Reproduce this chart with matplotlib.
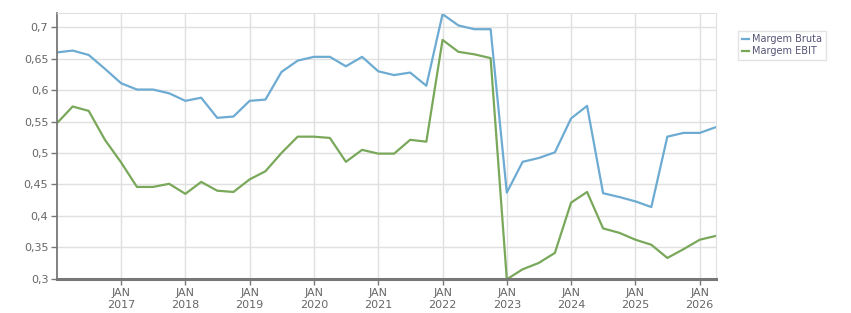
import pandas as pd
import matplotlib
matplotlib.use('Agg')
import matplotlib.pyplot as plt

# quarterly points, Jan 2016 .. Apr 2026
dates = pd.date_range('2016-01-01', periods=42, freq='QS')

margem_bruta = [0.660, 0.663, 0.656, 0.634, 0.611, 0.601, 0.601, 0.595,
                0.583, 0.588, 0.556, 0.558, 0.583, 0.585, 0.629, 0.647,
                0.653, 0.653, 0.638, 0.653, 0.630, 0.624, 0.628, 0.607,
                0.721, 0.703, 0.697, 0.697, 0.437, 0.486, 0.492, 0.501,
                0.555, 0.575, 0.436, 0.430, 0.423, 0.414, 0.526, 0.532,
                0.532, 0.541]
margem_ebit = [0.547, 0.574, 0.567, 0.521, 0.485, 0.446, 0.446, 0.451,
               0.435, 0.454, 0.440, 0.438, 0.458, 0.471, 0.500, 0.526,
               0.526, 0.524, 0.486, 0.505, 0.499, 0.499, 0.521, 0.518,
               0.680, 0.661, 0.657, 0.651, 0.299, 0.315, 0.325, 0.341,
               0.421, 0.438, 0.380, 0.373, 0.362, 0.354, 0.333, 0.347,
               0.362, 0.368]

yticks = [0.3, 0.35, 0.4, 0.45, 0.5, 0.55, 0.6, 0.65, 0.7]
ytick_labels = ['0,3', '0,35', '0,4', '0,45', '0,5', '0,55', '0,6', '0,65', '0,7']
years = list(range(2017, 2027))

fig = plt.figure(figsize=(8.51, 3.13), dpi=100)
ax = fig.add_axes([0.0666, 0.1096, 0.7751, 0.8479])

ax.plot(dates, margem_bruta, color='#6dabd2', lw=1.6, label='Margem Bruta')
ax.plot(dates, margem_ebit, color='#79a85a', lw=1.6, label='Margem EBIT')

ax.set_ylim(0.3, 0.7223)
ax.set_xlim(pd.Timestamp('2016-01-01'), pd.Timestamp('2026-04-05'))
ax.set_yticks(yticks)
ax.set_yticklabels(ytick_labels)
ax.set_xticks([pd.Timestamp(f'{y}-01-01') for y in years])
ax.set_xticklabels([f'JAN\n{y}' for y in years])

ax.grid(True, color='#e0e0e0', lw=1)
ax.set_axisbelow(True)
for s in ['top', 'right']:
    ax.spines[s].set_color('#e0e0e0')
ax.spines['left'].set_color('#777777')
ax.spines['left'].set_linewidth(1.3)
ax.spines['bottom'].set_color('#777777')
ax.spines['bottom'].set_linewidth(2.2)
ax.tick_params(axis='both', colors='#777777', labelcolor='#666666',
               labelsize=8, length=4, width=1)
ax.tick_params(axis='y', pad=2)
ax.tick_params(axis='x', pad=3)

leg = ax.legend(loc='upper left', bbox_to_anchor=(1.033, 0.935), fontsize=7,
                frameon=True, fancybox=False, handlelength=0.7, handletextpad=0.3,
                borderpad=0.4, labelspacing=0.2, borderaxespad=0)
leg.get_frame().set_edgecolor('#dddddd')
leg.get_frame().set_linewidth(1)
for t in leg.get_texts():
    t.set_color('#555577')

fig.savefig('out.png', dpi=100)
